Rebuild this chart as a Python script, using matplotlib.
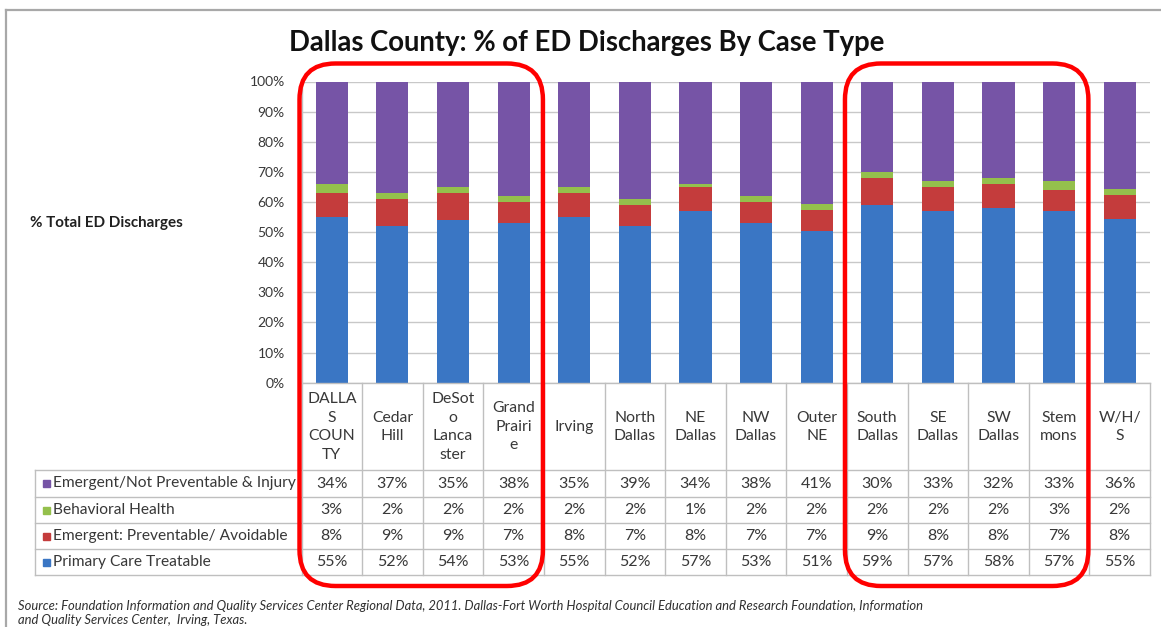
import matplotlib
matplotlib.use("Agg")
import matplotlib.pyplot as plt
from matplotlib.patches import FancyBboxPatch, Rectangle
import numpy as np

# ---------------- data ----------------
categories = ["DALLA\nS\nCOUN\nTY", "Cedar\nHill", "DeSot\no\nLanca\nster", "Grand\nPrairi\ne",
              "Irving", "North\nDallas", "NE\nDallas", "NW\nDallas", "Outer\nNE",
              "South\nDallas", "SE\nDallas", "SW\nDallas", "Stem\nmons", "W/H/\nS"]
series_names = ["Emergent/Not Preventable & Injury", "Behavioral Health",
                "Emergent: Preventable/ Avoidable", "Primary Care Treatable"]
emergent_not_prev = [34, 37, 35, 38, 35, 39, 34, 38, 41, 30, 33, 32, 33, 36]
behavioral_health = [3, 2, 2, 2, 2, 2, 1, 2, 2, 2, 2, 2, 3, 2]
emergent_prev = [8, 9, 9, 7, 8, 7, 8, 7, 7, 9, 8, 8, 7, 8]
primary_care = [55, 52, 54, 53, 55, 52, 57, 53, 51, 59, 57, 58, 57, 55]
ytick_values = [0, 10, 20, 30, 40, 50, 60, 70, 80, 90, 100]
highlight_groups = [(0, 3), (9, 12)]

title = "Dallas County: % of ED Discharges By Case Type"
ylabel = "% Total ED Discharges"
source = ("Source: Foundation Information and Quality Services Center Regional Data, 2011. "
          "Dallas-Fort Worth Hospital Council Education and Research Foundation, Information\n"
          "and Quality Services Center,  Irving, Texas.")

# ---------------- style ----------------
col_purple = "#7654A6"
col_green = "#94C04C"
col_red = "#C43C3C"
col_blue = "#3A76C4"
grid_col = "#c8c8c8"
text_col = "#383838"
FONT = "Lato"
plt.rcParams["font.family"] = [FONT, "DejaVu Sans"]

W, H = 1161, 627
fig = plt.figure(figsize=(W / 100, H / 100), dpi=100)
fig.patch.set_facecolor("white")

# layout (pixels)
plot_left, plot_right = 301.5, 1150.0
y100, y0 = 81.5, 382.7
legend_left = 35.0
row_edges = [382.7, 470.0, 497.0, 523.0, 549.0, 575.0]
n = len(categories)
colw = (plot_right - plot_left) / n

# ---------------- bar chart ----------------
ax = fig.add_axes([plot_left / W, 1 - y0 / H, (plot_right - plot_left) / W, (y0 - y100) / H])
x = np.arange(n)
stack = np.array([primary_care, emergent_prev, behavioral_health, emergent_not_prev], dtype=float)
stack = stack / stack.sum(axis=0) * 100.0
cols = [col_blue, col_red, col_green, col_purple]
bottom = np.zeros(n)
for vals, c in zip(stack, cols):
    ax.bar(x, vals, width=0.53, bottom=bottom, color=c, edgecolor="none", zorder=3)
    bottom += vals
ax.set_xlim(-0.5, n - 0.5)
ax.set_ylim(0, 100)
ax.set_yticks(ytick_values)
ax.set_yticklabels([f"{v}%" for v in ytick_values], fontsize=10, color=text_col)
ax.tick_params(axis="y", length=0, pad=12)
ax.set_xticks([])
ax.yaxis.grid(True, color=grid_col, lw=1.0, zorder=0)
for s in ["top", "right", "bottom"]:
    ax.spines[s].set_visible(False)
ax.spines["left"].set_color("#bfbfbf")
ax.spines["left"].set_linewidth(1.0)

# ---------------- data table ----------------
tab = fig.add_axes([legend_left / W, 1 - row_edges[-1] / H, (plot_right - legend_left) / W,
                    (row_edges[-1] - row_edges[0]) / H])
tab.set_xlim(legend_left, plot_right)
tab.set_ylim(row_edges[-1], row_edges[0])
tab.axis("off")
lc = "#bfbfbf"
lw = 1.0
tab.plot([plot_left, plot_right], [row_edges[0], row_edges[0]], color=lc, lw=lw, clip_on=False)
for r in row_edges[1:]:
    tab.plot([legend_left, plot_right], [r, r], color=lc, lw=lw, clip_on=False)
for i in range(n + 1):
    xe = plot_left + i * colw
    tab.plot([xe, xe], [row_edges[0], row_edges[-1]], color=lc, lw=lw, clip_on=False)
tab.plot([legend_left, legend_left], [row_edges[1], row_edges[-1]], color=lc, lw=lw, clip_on=False)

# header labels
for i, lab in enumerate(categories):
    cx = plot_left + (i + 0.5) * colw
    tab.text(cx, (row_edges[0] + row_edges[1]) / 2 + 0.5, lab, ha="center", va="center",
             fontsize=11.3, color=text_col, linespacing=1.42)

# series rows
row_series = [emergent_not_prev, behavioral_health, emergent_prev, primary_care]
row_colors = [col_purple, col_green, col_red, col_blue]
clip_rect = Rectangle((legend_left, row_edges[1]), plot_left - legend_left - 1,
                      row_edges[-1] - row_edges[1], transform=tab.transData)
for r, (name, vals, c) in enumerate(zip(series_names, row_series, row_colors)):
    cy = (row_edges[r + 1] + row_edges[r + 2]) / 2
    tab.add_patch(Rectangle((legend_left + 8, cy - 3.5), 7, 7, color=c, clip_on=False))
    t = tab.text(legend_left + 18, cy, name, ha="left", va="center", fontsize=11.2,
                 color=text_col)
    t.set_clip_path(clip_rect)
    for i, v in enumerate(vals):
        cx = plot_left + (i + 0.5) * colw
        tab.text(cx, cy, f"{v}%", ha="center", va="center", fontsize=11.5, color=text_col)

# ---------------- overlay: title, labels, highlight boxes, border ----------------
ov = fig.add_axes([0, 0, 1, 1], zorder=10)
ov.set_xlim(0, W)
ov.set_ylim(H, 0)
ov.axis("off")
ov.patch.set_alpha(0)

ov.text(587, 43, title, ha="center", va="center", fontsize=19.8, fontweight="bold", color="#111111")
ov.text(30, 223, ylabel, ha="left", va="center", fontsize=10.9, fontweight="bold", color="#202020")
ov.text(18, 613, source, ha="left", va="center", fontsize=9.4, style="italic",
        color="#303030", linespacing=1.3)

for a, b in highlight_groups:
    xl = plot_left + a * colw - 2
    xr = plot_left + (b + 1) * colw - 1
    ov.add_patch(FancyBboxPatch((xl, 63.5), xr - xl, 586 - 63.5,
                                boxstyle="round,pad=0,rounding_size=36",
                                lw=3.2, ec="#ff0000", fc="none"))

ov.plot([5.5, W], [10, 10], color="#a8a8a8", lw=1.6)
ov.plot([6, 6], [10, H], color="#a8a8a8", lw=1.6)

fig.savefig("out.png", dpi=100, facecolor="white")
